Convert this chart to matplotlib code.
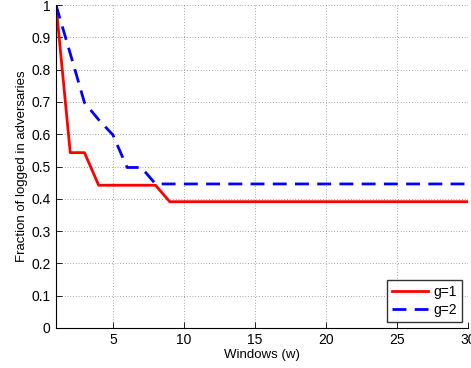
import matplotlib
matplotlib.use("Agg")
import matplotlib.pyplot as plt
import numpy as np

windows = np.arange(1, 31)
g1 = [1.0, 0.543, 0.543, 0.442, 0.442, 0.442, 0.442, 0.442] + [0.391] * 22
g2 = [1.0, 0.85, 0.698, 0.645, 0.598, 0.497, 0.497, 0.446] + [0.446] * 22
xticks = [5, 10, 15, 20, 25, 30]
yticks = [0, 0.1, 0.2, 0.3, 0.4, 0.5, 0.6, 0.7, 0.8, 0.9, 1]
yticklabels = ["0", "0.1", "0.2", "0.3", "0.4", "0.5", "0.6", "0.7", "0.8", "0.9", "1"]

plt.rcParams['font.family'] = ['Liberation Sans', 'DejaVu Sans']
plt.rcParams['font.size'] = 10

fig = plt.figure(figsize=(4.71, 3.68), dpi=100)
ax = fig.add_axes([0.119, 0.109, 0.875, 0.877])
ax.plot(windows, g1, color='#ff0000', lw=2, label='g=1')
ax.plot(windows, g2, color='#0000ff', lw=2, ls=(0, (5, 3)), label='g=2')
ax.set_xlim(1, 30)
ax.set_ylim(0, 1)
ax.set_xticks(xticks)
ax.set_yticks(yticks)
ax.set_yticklabels(yticklabels)
ax.tick_params(direction='in', length=4, width=0.6, pad=4, labelsize=10)
ax.grid(True, color='#555555', ls=(0, (1, 3)), lw=0.5)
for s in ['top', 'right']:
    ax.spines[s].set_visible(False)
for s in ['left', 'bottom']:
    ax.spines[s].set_linewidth(0.8)
ax.set_xlabel('Windows (w)', fontsize=9.5, labelpad=1)
ax.set_ylabel('Fraction of logged in adversaries', fontsize=9.5, labelpad=2)
leg = ax.legend(loc='lower right', fontsize=10, frameon=True, fancybox=False,
                edgecolor='black', handlelength=2.6, borderpad=0.35,
                labelspacing=0.25, handletextpad=0.4, borderaxespad=0.45)
leg.get_frame().set_linewidth(1.0)
fig.savefig('out.png', dpi=100)
